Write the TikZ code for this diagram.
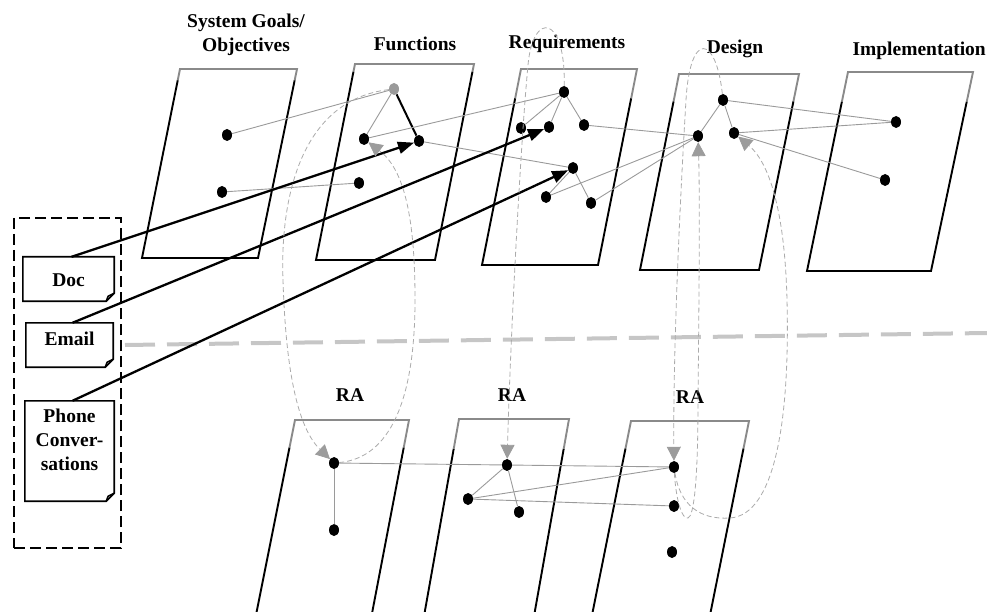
\documentclass[tikz,border=0pt]{standalone}
\usepackage{fontspec}
\setmainfont{Liberation Serif}
\usetikzlibrary{arrows.meta,calc,shapes.geometric}

\definecolor{linegray}{HTML}{9A9A9A}
\definecolor{curvegray}{HTML}{ABABAB}
\definecolor{rulegray}{HTML}{C6C6C6}
\definecolor{topgray}{HTML}{8A8A8A}
\definecolor{headgray}{HTML}{9C9C9C}

% sheet: top-left x, top-right x, top y, bottom-left x, bottom-right x, bottom y, grey fraction
\newcommand{\drawsheet}[7]{%
  \draw[sheettop] ($(#1,#3)!#7!(#4,#6)$) -- (#1,#3) -- (#2,#3) -- ($(#2,#3)!#7!(#5,#6)$);
  \draw[sheetedge] ($(#1,#3)!#7!(#4,#6)$) -- (#4,#6) -- (#5,#6) -- ($(#2,#3)!#7!(#5,#6)$);
}
% document outline with a folded lower-right corner
\newcommand{\docoutline}[1]{%
  \draw[docline] (#1.north west) -- (#1.north east) -- ([yshift=8pt]#1.south east)
    -- ([xshift=-8pt]#1.south east) -- (#1.south west) -- cycle;
  \draw[docline] ([yshift=8pt]#1.south east) -- ([shift={(-6pt,5pt)}]#1.south east)
    -- ([xshift=-8pt]#1.south east);
}

\begin{document}
\begin{tikzpicture}[x=1pt,y=-1pt,
  sheetedge/.style={line width=1.9pt,black,line join=miter},
  sheettop/.style={line width=1.9pt,topgray,line join=miter},
  dot/.style={ellipse,fill=black,draw=none,inner sep=0pt,minimum width=10pt,minimum height=12pt},
  thin/.style={line width=0.9pt,linegray},
  thickblack/.style={line width=2pt,black},
  docarrow/.style={line width=2.3pt,black,-{Triangle[length=16pt,width=12pt]}},
  curvelink/.style={line width=0.8pt,curvegray,dash pattern=on 5pt off 3pt,
    -{Triangle[length=14pt,width=14pt,fill=headgray,color=headgray]}},
  sepline/.style={line width=4pt,rulegray,dash pattern=on 30pt off 12pt},
  srcbox/.style={draw,line width=1.6pt,dash pattern=on 11pt off 5pt,inner sep=0pt},
  docbody/.style={inner sep=0pt},
  docline/.style={line width=1.6pt,black,line join=miter},
  title/.style={font=\fontsize{19.5}{24}\selectfont\bfseries,align=center,inner sep=0pt},
]
\useasboundingbox (0,0) rectangle (987,612);
\clip (0,0) rectangle (987,612);

% upper row of sheets
\drawsheet{180}{297}{69}{142}{258}{258}{0.06}
\drawsheet{355}{474}{64}{316}{435}{260}{0.04}
\drawsheet{521}{637}{69}{482}{598}{265}{0.15}
\drawsheet{679}{799}{74}{640}{759}{270}{0.14}
\drawsheet{848}{973}{72}{807}{931}{271}{0.15}
% lower row of sheets (run past the lower edge)
\drawsheet{295}{409}{420}{249}{365}{650}{0.12}
\drawsheet{459}{569}{419}{418}{528}{650}{0.13}
\drawsheet{631}{749}{421}{585}{703}{650}{0.12}

% separator between the two rows
\draw[sepline] (125,345) -- (987,333);

% titles
\node[title] (tgoals) at (246,35) {System Goals/\\Objectives};
\node[title] (tfunc) at (415,44) {Functions};
\node[title] (treq) at (567,44) {Requirements};
\node[title] (tdes) at (735,49) {Design};
\node[title,anchor=east] (timpl) at (986,51) {Implementation};
\node[title] (tra1) at (350,395) {RA};
\node[title] (tra2) at (512,395) {RA};
\node[title] (tra3) at (690,397) {RA};

% source documents
\node[srcbox,minimum width=107pt,minimum height=330pt] (sources) at (67.5,383) {};
\node[docbody,minimum width=91pt,minimum height=44pt] (doc) at (68.5,279) {};
\node[docbody,minimum width=87pt,minimum height=44pt] (email) at (69.5,345) {};
\node[docbody,minimum width=89pt,minimum height=100pt] (phone) at (69.5,451) {};
\docoutline{doc}
\docoutline{email}
\docoutline{phone}
\node[title] (tdoc) at (68.5,280) {Doc};
\node[title] (temail) at (69.5,339) {Email};
\node[title] (tphone) at (69.5,440) {Phone\\Conver-\\sations};

% elements on the sheets
\node[dot] (g1) at (227,135) {};
\node[dot] (g2) at (222,192) {};
\node[dot,fill=linegray] (fg) at (394,89) {};
\node[dot] (f1) at (364,139) {};
\node[dot] (f2) at (419,141) {};
\node[dot] (f3) at (359,183) {};
\node[dot] (rq1) at (564,92) {};
\node[dot] (rq2) at (521,128) {};
\node[dot] (rq3) at (549,127) {};
\node[dot] (rq4) at (584,125) {};
\node[dot] (rq5) at (573,168) {};
\node[dot] (rq6) at (546,197) {};
\node[dot] (rq7) at (591,203) {};
\node[dot] (d1) at (723,100) {};
\node[dot] (d2) at (698,136) {};
\node[dot] (d3) at (734,133) {};
\node[dot] (i1) at (896,122) {};
\node[dot] (i2) at (885,180) {};
\node[dot] (a1) at (334,463) {};
\node[dot] (a2) at (334,530) {};
\node[dot] (b1) at (507,465) {};
\node[dot] (b2) at (468,499) {};
\node[dot] (b3) at (519,512) {};
\node[dot] (c1) at (674,467) {};
\node[dot] (c2) at (674,506) {};
\node[dot] (c3) at (672,552) {};

% trace links
\draw[thin] (g1) -- (fg);
\draw[thin] (g2) -- (f3);
\draw[thin] (fg) -- (f1);
\draw[thickblack] (fg) -- (f2);
\draw[thin] (f1) -- (rq1);
\draw[thin] (f2) -- (rq5);
\draw[thin] (rq1) -- (rq2);
\draw[thin] (rq1) -- (rq3);
\draw[thin] (rq1) -- (rq4);
\draw[thin] (rq5) -- (rq6);
\draw[thin] (rq5) -- (rq7);
\draw[thin] (rq4) -- (d2);
\draw[thin] (rq6) -- (d2);
\draw[thin] (rq7) -- (d2);
\draw[thin] (d1) -- (d2);
\draw[thin] (d1) -- (d3);
\draw[thin] (d1) -- (i1);
\draw[thin] (d3) -- (i1);
\draw[thin] (i2) -- (d3);
\draw[thin] (a1) -- (b1);
\draw[thin] (a1) -- (a2);
\draw[thin] (b1) -- (b2);
\draw[thin] (b1) -- (b3);
\draw[thin] (b1) -- (c1);
\draw[thin] (b2) -- (c1);
\draw[thin] (b2) -- (c2);

% documents feeding the sheets
\draw[docarrow] ([xshift=3pt]doc.north) -- (f2);
\draw[docarrow] ([xshift=3pt]email.north) -- (rq3);
\draw[docarrow] ([xshift=3pt]phone.north) -- (rq5);

% analysis round trips
\draw[curvelink] (fg) .. controls (300,100) and (280,200) .. (283,280)
  .. controls (286,380) and (300,430) .. (a1);
\draw[curvelink] (a1) .. controls (390,458) and (415,400) .. (415,300)
  .. controls (415,220) and (405,170) .. (f1);
\draw[curvelink] (rq1) .. controls (566,15) and (533,10) .. (528,65)
  .. controls (520,150) and (510,350) .. (b1);
\draw[curvelink] (d1) .. controls (716,35) and (690,30) .. (686,100)
  .. controls (680,200) and (673,350) .. (c1);
\draw[curvelink] (c1) .. controls (676,500) and (682,520) .. (688,518)
  .. controls (694,516) and (698,480) .. (698,400)
  .. controls (699,300) and (700,200) .. (d2);
\draw[curvelink] (c1) .. controls (680,505) and (700,520) .. (730,518)
  .. controls (775,515) and (790,420) .. (787,300)
  .. controls (785,220) and (772,165) .. (d3);
\end{tikzpicture}
\end{document}
